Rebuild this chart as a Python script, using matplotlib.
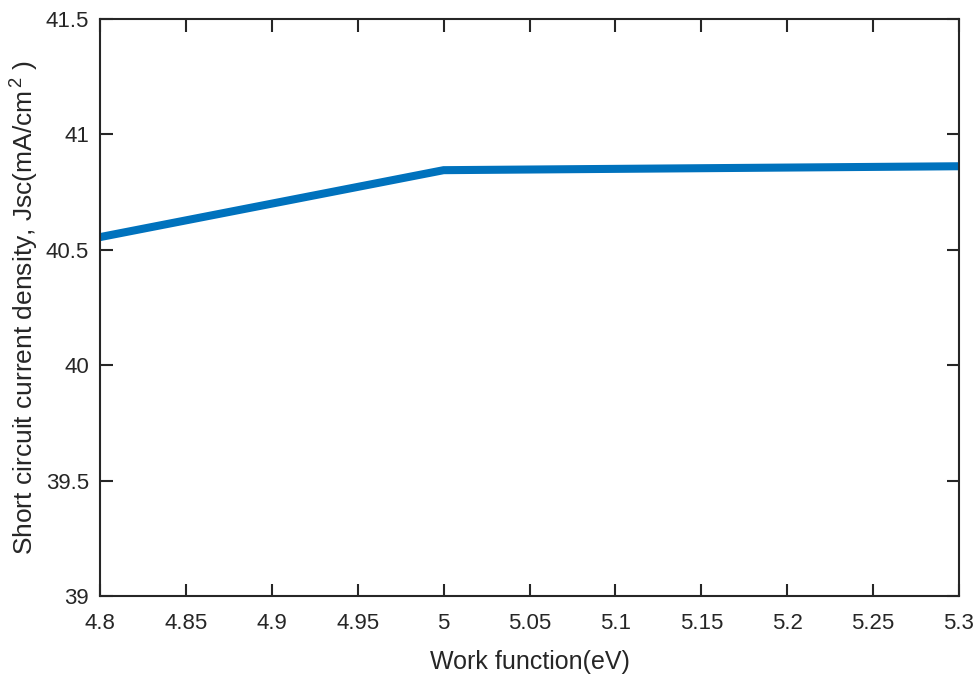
import numpy as np
import matplotlib
matplotlib.use("Agg")
import matplotlib.pyplot as plt

# work function (eV) vs short circuit current density (mA/cm^2)
work_function = [4.8, 5.0, 5.3]
jsc = [40.555, 40.845, 40.862]

xticks = [4.8, 4.85, 4.9, 4.95, 5.0, 5.05, 5.1, 5.15, 5.2, 5.25, 5.3]
xtick_labels = ["4.8", "4.85", "4.9", "4.95", "5", "5.05", "5.1", "5.15", "5.2", "5.25", "5.3"]
yticks = [39, 39.5, 40, 40.5, 41, 41.5]
ytick_labels = ["39", "39.5", "40", "40.5", "41", "41.5"]

plt.rcParams['font.family'] = ['Liberation Sans', 'DejaVu Sans']
plt.rcParams['font.size'] = 16
plt.rcParams['mathtext.fontset'] = 'custom'
plt.rcParams['mathtext.rm'] = 'Liberation Sans'
plt.rcParams['mathtext.it'] = 'Liberation Sans'
plt.rcParams['xtick.direction'] = 'in'
plt.rcParams['ytick.direction'] = 'in'

dark = '#262626'

fig = plt.figure(figsize=(9.77, 6.78), dpi=100)
ax = fig.add_axes([100 / 977, 1 - 596 / 678, 859 / 977, 577 / 678])

ax.plot(work_function, jsc, color='#0072BD', lw=5.8, solid_capstyle='butt',
        solid_joinstyle='miter', clip_on=False)

ax.set_xlim(4.8, 5.3)
ax.set_ylim(39, 41.5)
ax.set_xticks(xticks)
ax.set_xticklabels(xtick_labels)
ax.set_yticks(yticks)
ax.set_yticklabels(ytick_labels)

ax.xaxis.set_ticks_position('both')
ax.yaxis.set_ticks_position('both')
ax.tick_params(length=9, width=1.5, colors=dark, labelcolor=dark, labelsize=16)
ax.tick_params(axis='x', pad=12)
ax.tick_params(axis='y', pad=8)
for s in ax.spines.values():
    s.set_linewidth(1.5)
    s.set_color(dark)

ax.set_xlabel('Work function(eV)', color=dark, fontsize=18, labelpad=12)
ax.set_ylabel(r'Short circuit current density, Jsc(mA/cm$^{\,2}$ )', color=dark,
              fontsize=19, labelpad=3)

plt.savefig("out.png")
plt.close()
